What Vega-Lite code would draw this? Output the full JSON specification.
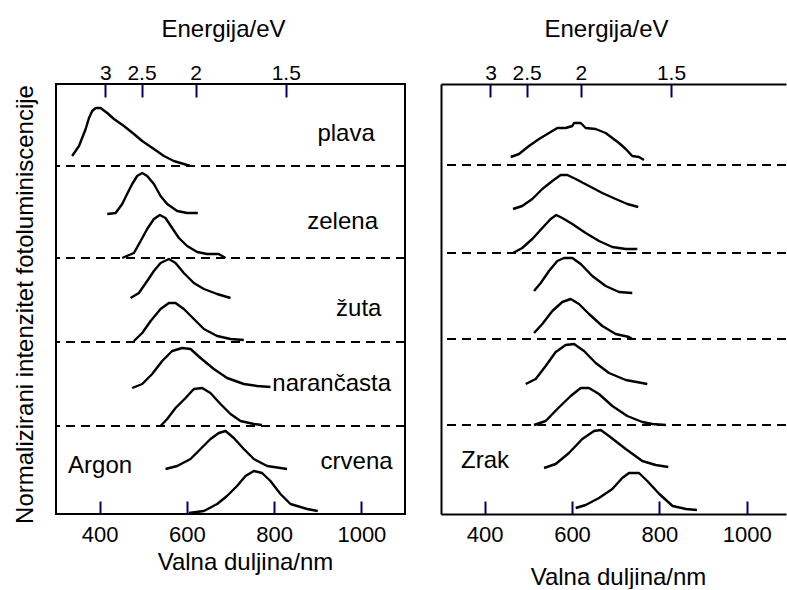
{
  "$schema": "https://vega.github.io/schema/vega-lite/v6.json",
  "padding": {"left": 11, "top": 16, "right": 0, "bottom": 0},
  "background": "white",
  "spacing": 33,
  "config": {
    "font": "Liberation Sans",
    "view": {"stroke": "black", "strokeWidth": 2},
    "axis": {"grid": false, "labelColor": "black", "titleColor": "black", "titleFontWeight": "normal", "domainColor": "black", "labelFont": "Liberation Sans", "titleFont": "Liberation Sans"}
  },
  "datasets": {
    "argon": [
      {"s":"a1","nm":337,"i":35.8},{"s":"a1","nm":352.7,"i":36.8},{"s":"a1","nm":368,"i":38.5},{"s":"a1","nm":375.6,"i":39.6},{"s":"a1","nm":383,"i":40.3},{"s":"a1","nm":391,"i":40.6},{"s":"a1","nm":402,"i":40.6},{"s":"a1","nm":417.5,"i":40.1},{"s":"a1","nm":432.8,"i":39.5},{"s":"a1","nm":455.7,"i":38.8},{"s":"a1","nm":478.6,"i":38.0},{"s":"a1","nm":497.6,"i":37.3},{"s":"a1","nm":524.4,"i":36.5},{"s":"a1","nm":547.3,"i":35.8},{"s":"a1","nm":570,"i":35.3},{"s":"a1","nm":593,"i":35.0},{"s":"a1","nm":608,"i":34.8},
      {"s":"a2","nm":417.5,"i":30.0},{"s":"a2","nm":436.7,"i":30.1},{"s":"a2","nm":451.8,"i":31.0},{"s":"a2","nm":463,"i":32.0},{"s":"a2","nm":474.7,"i":33.0},{"s":"a2","nm":486,"i":33.8},{"s":"a2","nm":497.6,"i":34.1},{"s":"a2","nm":509,"i":33.8},{"s":"a2","nm":524.4,"i":33.0},{"s":"a2","nm":539.7,"i":31.8},{"s":"a2","nm":554.9,"i":31.0},{"s":"a2","nm":577.8,"i":30.3},{"s":"a2","nm":600.7,"i":30.1},{"s":"a2","nm":625,"i":30.1},
      {"s":"a3","nm":451.8,"i":25.6},{"s":"a3","nm":478.6,"i":26.1},{"s":"a3","nm":494,"i":27.3},{"s":"a3","nm":509,"i":28.5},{"s":"a3","nm":524.4,"i":29.5},{"s":"a3","nm":538,"i":29.9},{"s":"a3","nm":551,"i":29.6},{"s":"a3","nm":566.3,"i":28.6},{"s":"a3","nm":581.7,"i":27.6},{"s":"a3","nm":600.7,"i":26.8},{"s":"a3","nm":623.6,"i":26.2},{"s":"a3","nm":646.5,"i":26.0},{"s":"a3","nm":673,"i":26.0},{"s":"a3","nm":688.6,"i":25.6},
      {"s":"a4","nm":471,"i":21.6},{"s":"a4","nm":490,"i":22.1},{"s":"a4","nm":509,"i":23.3},{"s":"a4","nm":524.4,"i":24.3},{"s":"a4","nm":539.7,"i":25.1},{"s":"a4","nm":558.8,"i":25.5},{"s":"a4","nm":574,"i":25.1},{"s":"a4","nm":593,"i":24.1},{"s":"a4","nm":616,"i":23.1},{"s":"a4","nm":639,"i":22.5},{"s":"a4","nm":669.4,"i":22.0},{"s":"a4","nm":700,"i":21.6},
      {"s":"a5","nm":478.6,"i":17.3},{"s":"a5","nm":497.6,"i":18.1},{"s":"a5","nm":516.9,"i":19.3},{"s":"a5","nm":539.7,"i":20.5},{"s":"a5","nm":558.8,"i":21.1},{"s":"a5","nm":574,"i":21.1},{"s":"a5","nm":593,"i":20.5},{"s":"a5","nm":616,"i":19.5},{"s":"a5","nm":639,"i":18.5},{"s":"a5","nm":669.4,"i":17.8},{"s":"a5","nm":700,"i":17.5},{"s":"a5","nm":730.5,"i":17.4},
      {"s":"a6","nm":474.7,"i":12.6},{"s":"a6","nm":497.6,"i":13.0},{"s":"a6","nm":520.5,"i":14.0},{"s":"a6","nm":543.4,"i":15.3},{"s":"a6","nm":566.3,"i":16.3},{"s":"a6","nm":589.2,"i":16.6},{"s":"a6","nm":608.4,"i":16.5},{"s":"a6","nm":631.3,"i":15.6},{"s":"a6","nm":661.8,"i":14.5},{"s":"a6","nm":692.3,"i":13.6},{"s":"a6","nm":730.5,"i":13.0},{"s":"a6","nm":761,"i":12.8},{"s":"a6","nm":791.6,"i":12.7},
      {"s":"a7","nm":539.7,"i":8.8},{"s":"a7","nm":554.9,"i":9.5},{"s":"a7","nm":574,"i":10.6},{"s":"a7","nm":597,"i":11.6},{"s":"a7","nm":616,"i":12.5},{"s":"a7","nm":635,"i":12.6},{"s":"a7","nm":654,"i":12.1},{"s":"a7","nm":677,"i":11.0},{"s":"a7","nm":700,"i":10.0},{"s":"a7","nm":723,"i":9.3},{"s":"a7","nm":753.4,"i":9.0},{"s":"a7","nm":772,"i":8.9},
      {"s":"a8","nm":551,"i":4.5},{"s":"a8","nm":577.8,"i":4.8},{"s":"a8","nm":608.4,"i":5.5},{"s":"a8","nm":631.3,"i":6.5},{"s":"a8","nm":654.2,"i":7.5},{"s":"a8","nm":673.3,"i":8.1},{"s":"a8","nm":688.6,"i":8.3},{"s":"a8","nm":707.6,"i":7.6},{"s":"a8","nm":730.5,"i":6.5},{"s":"a8","nm":753.4,"i":5.5},{"s":"a8","nm":784,"i":4.8},{"s":"a8","nm":829.6,"i":4.5},
      {"s":"a9","nm":604.6,"i":0.1},{"s":"a9","nm":639,"i":0.3},{"s":"a9","nm":669.4,"i":1.0},{"s":"a9","nm":692,"i":1.8},{"s":"a9","nm":715,"i":2.8},{"s":"a9","nm":734.4,"i":3.8},{"s":"a9","nm":753.4,"i":4.3},{"s":"a9","nm":772.4,"i":4.1},{"s":"a9","nm":791.6,"i":3.3},{"s":"a9","nm":814.5,"i":2.0},{"s":"a9","nm":837.4,"i":1.0},{"s":"a9","nm":875.5,"i":0.5},{"s":"a9","nm":900,"i":0.3}
    ],
    "zrak": [
      {"s":"r1","nm":459.6,"i":35.7},{"s":"r1","nm":478.6,"i":36.0},{"s":"r1","nm":501.5,"i":36.8},{"s":"r1","nm":524.4,"i":37.5},{"s":"r1","nm":547.3,"i":38.1},{"s":"r1","nm":566.3,"i":38.6},{"s":"r1","nm":585.5,"i":38.6},{"s":"r1","nm":600.7,"i":38.8},{"s":"r1","nm":604.6,"i":39.1},{"s":"r1","nm":619.9,"i":39.1},{"s":"r1","nm":631.3,"i":38.6},{"s":"r1","nm":654.2,"i":38.5},{"s":"r1","nm":677.1,"i":38.1},{"s":"r1","nm":692.3,"i":37.6},{"s":"r1","nm":707.6,"i":37.1},{"s":"r1","nm":723,"i":36.5},{"s":"r1","nm":738,"i":35.8},{"s":"r1","nm":753.4,"i":35.7},{"s":"r1","nm":764.8,"i":35.4},
      {"s":"r2","nm":464.9,"i":30.5},{"s":"r2","nm":486,"i":30.8},{"s":"r2","nm":509,"i":31.5},{"s":"r2","nm":532,"i":32.5},{"s":"r2","nm":554.9,"i":33.3},{"s":"r2","nm":574,"i":33.9},{"s":"r2","nm":589.2,"i":33.9},{"s":"r2","nm":608.4,"i":33.5},{"s":"r2","nm":638.9,"i":32.8},{"s":"r2","nm":669.4,"i":32.1},{"s":"r2","nm":700,"i":31.5},{"s":"r2","nm":726.6,"i":31.0},{"s":"r2","nm":751.8,"i":30.7},
      {"s":"r3","nm":464.9,"i":26.1},{"s":"r3","nm":486,"i":26.6},{"s":"r3","nm":509,"i":27.5},{"s":"r3","nm":532,"i":28.6},{"s":"r3","nm":551,"i":29.5},{"s":"r3","nm":564,"i":29.9},{"s":"r3","nm":577.8,"i":29.6},{"s":"r3","nm":600.7,"i":29.0},{"s":"r3","nm":631.3,"i":28.1},{"s":"r3","nm":661.8,"i":27.3},{"s":"r3","nm":692.3,"i":26.7},{"s":"r3","nm":723,"i":26.5},{"s":"r3","nm":749.5,"i":26.5},
      {"s":"r4","nm":513,"i":22.3},{"s":"r4","nm":528.3,"i":23.1},{"s":"r4","nm":547.3,"i":24.3},{"s":"r4","nm":566.3,"i":25.3},{"s":"r4","nm":581.7,"i":25.6},{"s":"r4","nm":600.7,"i":25.6},{"s":"r4","nm":619.9,"i":25.0},{"s":"r4","nm":646.5,"i":23.8},{"s":"r4","nm":677.1,"i":22.8},{"s":"r4","nm":707.6,"i":22.2},{"s":"r4","nm":738,"i":22.1},
      {"s":"r5","nm":513,"i":18.1},{"s":"r5","nm":532,"i":19.0},{"s":"r5","nm":554.9,"i":20.3},{"s":"r5","nm":577.8,"i":21.2},{"s":"r5","nm":597,"i":21.5},{"s":"r5","nm":616,"i":21.0},{"s":"r5","nm":638.9,"i":20.0},{"s":"r5","nm":669.4,"i":18.8},{"s":"r5","nm":700,"i":18.0},{"s":"r5","nm":730.5,"i":17.7},{"s":"r5","nm":738,"i":17.5},
      {"s":"r6","nm":494,"i":13.0},{"s":"r6","nm":516.9,"i":13.5},{"s":"r6","nm":539.7,"i":14.8},{"s":"r6","nm":562.6,"i":16.2},{"s":"r6","nm":585.5,"i":16.9},{"s":"r6","nm":604.6,"i":17.0},{"s":"r6","nm":627.5,"i":16.3},{"s":"r6","nm":654.2,"i":15.1},{"s":"r6","nm":684.7,"i":14.1},{"s":"r6","nm":723,"i":13.4},{"s":"r6","nm":772.4,"i":13.0},
      {"s":"r7","nm":513,"i":8.9},{"s":"r7","nm":539.7,"i":9.3},{"s":"r7","nm":566.3,"i":10.5},{"s":"r7","nm":597,"i":11.8},{"s":"r7","nm":619.9,"i":12.6},{"s":"r7","nm":638.9,"i":12.6},{"s":"r7","nm":661.8,"i":12.0},{"s":"r7","nm":692.3,"i":10.8},{"s":"r7","nm":726.6,"i":9.8},{"s":"r7","nm":761,"i":9.2},{"s":"r7","nm":784,"i":9.0},{"s":"r7","nm":815,"i":8.9},
      {"s":"r8","nm":535.9,"i":4.6},{"s":"r8","nm":562.6,"i":5.0},{"s":"r8","nm":593,"i":6.1},{"s":"r8","nm":623.6,"i":7.5},{"s":"r8","nm":650.4,"i":8.3},{"s":"r8","nm":665.7,"i":8.4},{"s":"r8","nm":684.7,"i":7.8},{"s":"r8","nm":723,"i":6.5},{"s":"r8","nm":761,"i":5.3},{"s":"r8","nm":791.6,"i":4.9},{"s":"r8","nm":820.5,"i":4.7},
      {"s":"r9","nm":608.4,"i":0.6},{"s":"r9","nm":631.3,"i":0.9},{"s":"r9","nm":661.8,"i":1.6},{"s":"r9","nm":692.3,"i":2.5},{"s":"r9","nm":715,"i":3.6},{"s":"r9","nm":730.5,"i":4.1},{"s":"r9","nm":753.4,"i":4.1},{"s":"r9","nm":772.4,"i":3.3},{"s":"r9","nm":799.9,"i":2.0},{"s":"r9","nm":830.4,"i":0.8},{"s":"r9","nm":860.9,"i":0.5},{"s":"r9","nm":886,"i":0.4}
    ],
    "argonDash": [{"i":34.8},{"i":25.6},{"i":17.2},{"i":8.8}],
    "zrakDash": [{"i":34.9},{"i":26.1},{"i":17.5},{"i":8.9}],
    "argonLabels": [
      {"t":"plava","nm":965,"i":37.3},
      {"t":"zelena","nm":957,"i":28.5},
      {"t":"žuta","nm":994,"i":19.8},
      {"t":"narančasta","nm":932,"i":12.3},
      {"t":"crvena","nm":989,"i":4.5},
      {"t":"Argon","nm":401,"i":4.1}
    ],
    "zrakLabels": [
      {"t":"Zrak","nm":401,"i":4.6}
    ]
  },
  "hconcat": [
    {
      "width": 349,
      "height": 430,
      "resolve": {"axis": {"x": "independent"}},
      "layer": [
        {
          "data": {"name": "argonDash"},
          "mark": {"type": "rule", "strokeDash": [9, 6], "strokeWidth": 2, "color": "black"},
          "encoding": {
            "y": {"field": "i", "type": "quantitative", "scale": {"domain": [0, 43], "nice": false},
              "axis": {"orient": "left", "labels": false, "ticks": false, "domain": false, "title": "Normalizirani intenzitet fotoluminiscencije", "titleFontSize": 24, "titleX": -24, "titleY": 220, "titleBaseline": "alphabetic", "titleAngle": 270}}
          }
        },
        {
          "data": {"name": "argon"},
          "mark": {"type": "line", "color": "black", "strokeWidth": 2.4, "strokeJoin": "round"},
          "encoding": {
            "x": {"field": "nm", "type": "quantitative", "scale": {"domain": [300, 1100], "nice": false, "zero": false},
              "axis": {"orient": "bottom", "offset": -13, "values": [400, 600, 800, 1000], "format": "d", "ticks": true, "tickSize": 13, "tickWidth": 2, "tickColor": "#000066", "tickOpacity": 1, "labelFontSize": 22, "labelBaseline": "alphabetic", "labelPadding": 27, "domain": false, "title": "Valna duljina/nm", "titleFontSize": 24, "titleX": 189, "titleY": 68, "titleBaseline": "alphabetic"}},
            "y": {"field": "i", "type": "quantitative", "scale": {"domain": [0, 43], "nice": false},
              "axis": {"orient": "left", "labels": false, "ticks": false, "domain": false, "title": "Normalizirani intenzitet fotoluminiscencije", "titleFontSize": 24, "titleX": -24, "titleY": 220, "titleBaseline": "alphabetic", "titleAngle": 270}},
            "detail": {"field": "s", "type": "nominal"}
          }
        },
        {
          "data": {"name": "argonLabels"},
          "mark": {"type": "text", "fontSize": 24, "align": "center", "baseline": "alphabetic", "color": "black", "font": "Liberation Sans"},
          "encoding": {
            "x": {"field": "nm", "type": "quantitative", "scale": {"domain": [300, 1100], "nice": false, "zero": false},
              "axis": {"orient": "top", "offset": -13, "values": [413.3333, 496, 620, 826.6667], "labelExpr": "format(1240/datum.value, '.2~r')", "ticks": true, "tickSize": 13, "tickWidth": 2, "tickColor": "#000066", "tickOpacity": 1, "labelFontSize": 21, "labelBaseline": "alphabetic", "labelPadding": 5, "domain": false, "title": "Energija/eV", "titleFontSize": 24, "titleX": 167, "titleY": -61, "titleBaseline": "alphabetic"}},
            "y": {"field": "i", "type": "quantitative", "scale": {"domain": [0, 43], "nice": false},
              "axis": {"orient": "left", "labels": false, "ticks": false, "domain": false, "title": "Normalizirani intenzitet fotoluminiscencije", "titleFontSize": 24, "titleX": -24, "titleY": 220, "titleBaseline": "alphabetic", "titleAngle": 270}},
            "text": {"field": "t", "type": "nominal"}
          }
        }
      ]
    },
    {
      "width": 345,
      "height": 430,
      "view": {"stroke": null},
      "resolve": {"axis": {"x": "independent"}},
      "layer": [
        {
          "data": {"name": "zrakDash"},
          "mark": {"type": "rule", "strokeDash": [9, 6], "strokeWidth": 2, "color": "black"},
          "encoding": {
            "y": {"field": "i", "type": "quantitative", "scale": {"domain": [0, 43], "nice": false},
              "axis": {"orient": "left", "labels": false, "ticks": false, "domain": true, "domainWidth": 2, "grid": true, "gridColor": "black", "gridWidth": 2, "gridOpacity": 1, "values": [0, 43], "title": null}}
          }
        },
        {
          "data": {"name": "zrak"},
          "mark": {"type": "line", "color": "black", "strokeWidth": 2.4, "strokeJoin": "round"},
          "encoding": {
            "x": {"field": "nm", "type": "quantitative", "scale": {"domain": [300, 1090], "nice": false, "zero": false},
              "axis": {"orient": "bottom", "offset": -13, "values": [400, 600, 800, 1000], "format": "d", "ticks": true, "tickSize": 13, "tickWidth": 2, "tickColor": "#000066", "tickOpacity": 1, "labelFontSize": 22, "labelBaseline": "alphabetic", "labelPadding": 27, "domain": false, "title": "Valna duljina/nm", "titleFontSize": 24, "titleX": 177, "titleY": 83, "titleBaseline": "alphabetic"}},
            "y": {"field": "i", "type": "quantitative", "scale": {"domain": [0, 43], "nice": false},
              "axis": {"orient": "left", "labels": false, "ticks": false, "domain": true, "domainWidth": 2, "grid": true, "gridColor": "black", "gridWidth": 2, "gridOpacity": 1, "values": [0, 43], "title": null}},
            "detail": {"field": "s", "type": "nominal"}
          }
        },
        {
          "data": {"name": "zrakLabels"},
          "mark": {"type": "text", "fontSize": 24, "align": "center", "baseline": "alphabetic", "color": "black", "font": "Liberation Sans"},
          "encoding": {
            "x": {"field": "nm", "type": "quantitative", "scale": {"domain": [300, 1090], "nice": false, "zero": false},
              "axis": {"orient": "top", "offset": -13, "values": [413.3333, 496, 620, 826.6667], "labelExpr": "format(1240/datum.value, '.2~r')", "ticks": true, "tickSize": 13, "tickWidth": 2, "tickColor": "#000066", "tickOpacity": 1, "labelFontSize": 21, "labelBaseline": "alphabetic", "labelPadding": 5, "domain": false, "title": "Energija/eV", "titleFontSize": 24, "titleX": 165, "titleY": -61, "titleBaseline": "alphabetic"}},
            "y": {"field": "i", "type": "quantitative", "scale": {"domain": [0, 43], "nice": false},
              "axis": {"orient": "left", "labels": false, "ticks": false, "domain": true, "domainWidth": 2, "grid": true, "gridColor": "black", "gridWidth": 2, "gridOpacity": 1, "values": [0, 43], "title": null}},
            "text": {"field": "t", "type": "nominal"}
          }
        }
      ]
    }
  ]
}
